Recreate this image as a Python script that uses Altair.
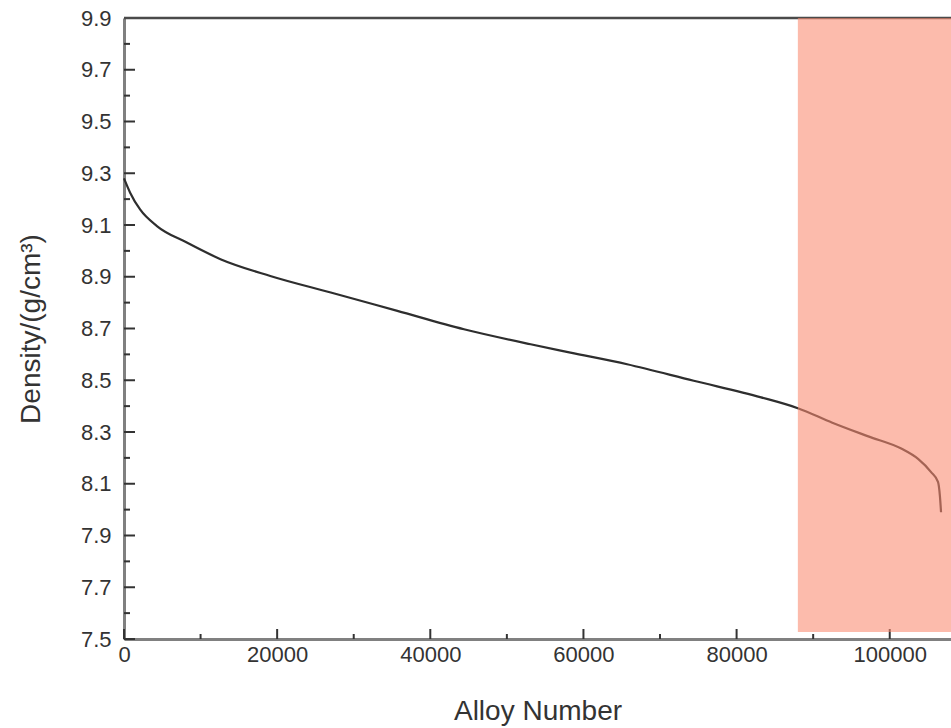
import altair as alt
import pandas as pd

# Density of alloys sorted from highest to lowest
alloy_number = [0, 800, 2100, 4300, 8200, 12600, 19100, 27000, 35700, 44400,
                53100, 58300, 65700, 74400, 83200, 88000, 92500, 97200,
                101500, 103700, 105400, 106300, 106550, 106700]
density = [9.28, 9.225, 9.16, 9.096, 9.032, 8.968, 8.903, 8.839, 8.768, 8.697,
           8.639, 8.607, 8.562, 8.498, 8.434, 8.392, 8.336, 8.283,
           8.236, 8.196, 8.145, 8.107, 8.053, 7.99]

# highlighted range of alloy numbers
band_start = [88000]
band_end = [108000]

x_domain = [0, 108000]
y_domain = [7.5, 9.9]

y_major = [7.5, 7.7, 7.9, 8.1, 8.3, 8.5, 8.7, 8.9, 9.1, 9.3, 9.5, 9.7]
y_minor = [7.6, 7.8, 8.0, 8.2, 8.4, 8.6, 8.8, 9.0, 9.2, 9.4, 9.6, 9.8]
x_major = [0, 20000, 40000, 60000, 80000, 100000]
x_minor = [10000, 30000, 50000, 70000, 90000]

W, H = 827, 621
FONT = "Liberation Sans"
TEXT = "#333333"

curve_df = pd.DataFrame({"alloy": alloy_number, "density": density})
band_df = pd.DataFrame({"start": band_start, "end": band_end})

x_scale = alt.Scale(domain=x_domain, nice=False, zero=False)
y_scale = alt.Scale(domain=y_domain, nice=False, zero=False)

x_axis = alt.Axis(values=x_major, format="d", tickSize=0, labelPadding=5,
                  labelFontSize=22, labelFont=FONT, labelColor=TEXT,
                  title="Alloy Number", titleFontSize=28, titleFont=FONT,
                  titleFontWeight="normal", titleColor=TEXT, titlePadding=32,
                  domainColor="#808080", domainWidth=3, grid=False,
                  labelFlush=False)
y_axis = alt.Axis(values=y_major + [9.9], format=".1f", tickSize=0,
                  labelPadding=13, labelFontSize=22, labelFont=FONT,
                  labelColor=TEXT, title="Density/(g/cm³)", titleFontSize=28,
                  titleFont=FONT, titleFontWeight="normal", titleColor=TEXT,
                  titleX=-93, titleY=H / 2, titleAngle=270,
                  titleBaseline="middle", titleAlign="center",
                  domainColor="#808080", domainWidth=3, grid=False,
                  labelFlush=False)

# frame line along the top of the plot
top_border = alt.Chart(pd.DataFrame({"d": [9.9]})).mark_rule(
    color="#4a4a4a", strokeWidth=2.5
).encode(y=alt.Y("d:Q", scale=y_scale, axis=y_axis),
         x=alt.value(0), x2=alt.value(W))

curve = alt.Chart(curve_df).mark_line(
    color="#2e2e2e", strokeWidth=2.2, interpolate="monotone"
).encode(
    x=alt.X("alloy:Q", scale=x_scale, axis=x_axis),
    y=alt.Y("density:Q", scale=y_scale, axis=y_axis),
)

# inward-pointing ticks
def y_ticks(vals, length, width):
    return alt.Chart(pd.DataFrame({"v": vals})).mark_rule(
        color="#333333", strokeWidth=width
    ).encode(y=alt.Y("v:Q", scale=y_scale, axis=y_axis),
             x=alt.value(0), x2=alt.value(length))

def x_ticks(vals, length, width):
    return alt.Chart(pd.DataFrame({"v": vals})).mark_rule(
        color="#333333", strokeWidth=width
    ).encode(x=alt.X("v:Q", scale=x_scale, axis=x_axis),
             y=alt.value(H), y2=alt.value(H - length))

band = alt.Chart(band_df).mark_rect(
    color="#FA8A70", opacity=0.58
).encode(
    x=alt.X("start:Q", scale=x_scale, axis=x_axis),
    x2="end:Q",
    y=alt.value(0), y2=alt.value(614),
)

chart = alt.layer(
    top_border, curve,
    y_ticks(y_major, 11, 2), y_ticks(y_minor, 6, 2),
    x_ticks(x_major, 10, 2), x_ticks(x_minor, 5, 2),
    band,
).properties(
    width=W, height=H,
    autosize=alt.AutoSizeParams(type="none"),
    padding={"left": 124, "top": 18, "right": 0, "bottom": 89},
).configure_view(stroke=None).configure(background="white")

chart.save("out.html", embed_options={"renderer": "svg", "actions": False})
